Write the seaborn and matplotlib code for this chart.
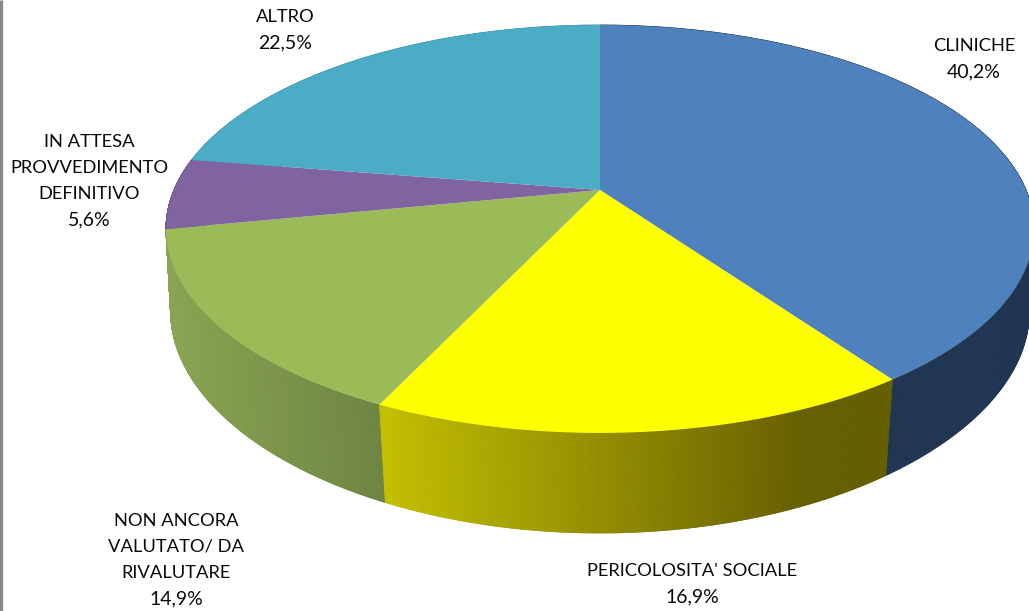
import numpy as np
import matplotlib
matplotlib.use("Agg")
import matplotlib.pyplot as plt
import seaborn as sns
from matplotlib.collections import PolyCollection

categories = ["CLINICHE", "PERICOLOSITA' SOCIALE", "NON ANCORA\nVALUTATO/ DA\nRIVALUTARE",
              "IN ATTESA\nPROVVEDIMENTO\nDEFINITIVO", "ALTRO"]
values = [40.2, 16.9, 14.9, 5.6, 22.5]
value_labels = ["40,2%", "16,9%", "14,9%", "5,6%", "22,5%"]
top_colors = ["#4F81BD", "#FFFF00", "#9BBB59", "#8064A2", "#4BACC6"]

# side-wall shading: colour at left end and right end of each slice's wall
wall_left = ["#1F3552", "#C4C000", "#8AA553", "#6A5488", "#3E8FA5"]
wall_right = ["#1F3552", "#665F00", "#6E8542", "#6A5488", "#3E8FA5"]

sns.set_theme(style="white")
plt.rcParams["font.family"] = ["Lato", "DejaVu Sans"]

W, H, DPI = 1029, 611, 100
fig = plt.figure(figsize=(W / DPI, H / DPI), dpi=DPI, facecolor="white")
ax = fig.add_axes([0, 0, 1, 1])
ax.set_xlim(0, W)
ax.set_ylim(H, 0)
ax.axis("off")

# perspective model of the tilted disc
CX, CY, A, B, P = 600.0, 190.0, 426.0, 196.5, 0.191
DEPTH = 81.0


def top(theta):
    x, y = np.sin(theta), np.cos(theta)
    w = 1 + P * y
    return CX + A * x / w, CY - B * y / w


def bottom(theta):
    x, y = np.sin(theta), np.cos(theta)
    w = 1 + P * y
    shrink = 0.99 - 0.02 * y ** 2
    return CX + shrink * A * x / w, CY - B * y / w + DEPTH / w


shares = np.array(values) / np.sum(values) * 2 * np.pi
ends = np.cumsum(shares)
starts = ends - shares
XL, XR = 380.0, 800.0

# back slices first, so the front walls cover them
for i in [4, 3, 0, 2, 1]:
    th = np.linspace(starts[i], ends[i], 400)
    tx, ty = top(th)
    bx, by = bottom(th)
    quads, cols = [], []
    c0 = np.array(matplotlib.colors.to_rgb(wall_left[i]))
    c1 = np.array(matplotlib.colors.to_rgb(wall_right[i]))
    xmin, xmax = min(tx.min(), bx.min()), max(tx.max(), bx.max())
    for j in range(len(th) - 1):
        quads.append([(tx[j], ty[j]), (tx[j + 1], ty[j + 1]), (bx[j + 1], by[j + 1]), (bx[j], by[j])])
        xm = (tx[j] + bx[j]) / 2
        if i == 1:
            t = np.clip((xm - XL) / (XR - XL), 0, 1)
        else:
            t = np.clip((xm - xmin) / (xmax - xmin), 0, 1)
        cols.append(c0 + (c1 - c0) * t)
    ax.add_collection(PolyCollection(quads, facecolors=cols, edgecolors=cols, linewidths=0.6, zorder=2))

for i in range(len(values)):
    th = np.linspace(starts[i], ends[i], 300)
    tx, ty = top(th)
    ax.fill(np.r_[CX, tx], np.r_[CY, ty], color=top_colors[i], lw=0, zorder=3 + i * 0.01)

label_pos = [(974, 46), (692, 571), (176, 521), (89, 142), (285, 17)]
for name, val, (x, y) in zip(categories, value_labels, label_pos):
    lines = name.split("\n")
    for k, line in enumerate(lines):
        ax.text(x, y + 26 * k, line, ha="center", va="center", fontsize=13.2,
                color="#0A0A0A", zorder=5)
    ax.text(x, y + 26 * len(lines), val, ha="center", va="center", fontsize=14,
            color="#0A0A0A", zorder=5)

ax.plot([1.2, 1.2], [0, H], color="#8A8A8A", lw=2.4, zorder=6, solid_capstyle="butt")

fig.savefig("out.png", dpi=DPI, facecolor="white")
